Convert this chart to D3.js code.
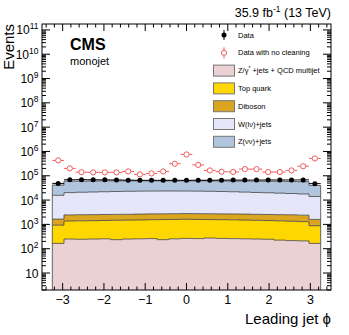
<!DOCTYPE html>
<html>
<head>
<meta charset="utf-8">
<script src="https://cdn.jsdelivr.net/npm/d3@7"></script>
<style>
body { margin: 0; background: #fff; }
svg { display: block; font-family: "Liberation Sans", Arial, Helvetica, sans-serif; }
</style>
</head>
<body>
<div id="chart"></div>
<script>
// 23 bins of leading jet phi
var binLo = -3.25, binHi = 3.25, nBins = 23;

// stacked backgrounds, per bin
var zqcd    = [165, 250, 245, 250, 255, 235, 250, 255, 260, 235, 255, 265, 260, 275, 265, 260, 255, 250, 245, 225, 215, 210, 165];
var topq    = [765, 1130, 1155, 1170, 1195, 1245, 1250, 1265, 1300, 1345, 1345, 1355, 1340, 1305, 1295, 1280, 1245, 1220, 1195, 1175, 1135, 1090, 715];
var diboson = [720, 1070, 1100, 1100, 1100, 1100, 1100, 1130, 1140, 1140, 1150, 1160, 1160, 1160, 1140, 1140, 1150, 1130, 1120, 1120, 1130, 1100, 720];
var wlnu    = [14050, 17850, 18500, 18980, 19450, 19920, 20400, 20650, 20800, 20880, 20850, 20720, 20540, 20260, 19800, 19320, 18650, 18000, 17440, 16780, 16120, 15400, 12400];
var znunu   = [25800, 39700, 39500, 39500, 39500, 39400, 39000, 38700, 38500, 38400, 38400, 38500, 38700, 39000, 39000, 39000, 39200, 39400, 39500, 39700, 39400, 39200, 26000];

var dataVals    = [48500, 68500, 69000, 68500, 68000, 67500, 66000, 65000, 65000, 65000, 65000, 65000, 65500, 65500, 66000, 66500, 66500, 66500, 67000, 67000, 67000, 67500, 47500];
var noCleanVals = [428000, 201000, 140000, 138000, 138000, 138000, 151000, 114000, 125000, 151000, 313000, 754000, 280000, 166000, 147000, 144000, 188000, 188000, 142000, 142000, 166000, 247000, 516000];

var layerKeys   = ['zqcd', 'topq', 'diboson', 'wlnu', 'znunu'];
var layerColors = ['#ecd1d4', '#ffd700', '#daa520', '#e6e6fa', '#b0c4de'];

// label parts: [text, superscript?]
var legendItems = [
    {label: [['Data']], type: 'data'},
    {label: [['Data with no cleaning']], type: 'noclean'},
    {label: [['Z/\u03b3'], ['*', true], [' +jets + QCD multijet']], type: 'box', color: '#ecd1d4'},
    {label: [['Top quark']], type: 'box', color: '#ffd700'},
    {label: [['Diboson']], type: 'box', color: '#daa520'},
    {label: [['W(l\u03bd)+jets']], type: 'box', color: '#e6e6fa'},
    {label: [['Z(\u03bd\u03bd)+jets']], type: 'box', color: '#b0c4de'}
];

var yMajor = [10, 100, 1e3, 1e4, 1e5, 1e6, 1e7, 1e8, 1e9, 1e10, 1e11];
var xMajor = [-3, -2, -1, 0, 1, 2, 3];

var W = 349, H = 335;
var margin = {left: 42, right: 18, top: 24, bottom: 45};
var pw = W - margin.left - margin.right;
var ph = H - margin.top - margin.bottom;
var yMin = 2, yMax = 1.75e11;

var svg = d3.select('#chart').append('svg').attr('width', W).attr('height', H);
var g = svg.append('g').attr('transform', 'translate(' + margin.left + ',' + margin.top + ')');

var x = d3.scaleLinear().domain([-3.5, 3.5]).range([0, pw]);
var y = d3.scaleLog().domain([yMin, yMax]).range([ph, 0]);

var bw = (binHi - binLo) / nBins;
var rows = d3.range(nBins).map(function(i) {
    return {
        x0: binLo + i * bw,
        x1: binLo + (i + 1) * bw,
        xc: binLo + (i + 0.5) * bw,
        zqcd: zqcd[i], topq: topq[i], diboson: diboson[i], wlnu: wlnu[i], znunu: znunu[i],
        data: dataVals[i], noclean: noCleanVals[i]
    };
});

var stacked = d3.stack().keys(layerKeys)(rows);

function steps(layer) {
    var pts = [];
    layer.forEach(function(d) {
        pts.push({x: d.data.x0, lo: d[0], hi: d[1]});
        pts.push({x: d.data.x1, lo: d[0], hi: d[1]});
    });
    return pts;
}

var area = d3.area()
    .x(function(d) { return x(d.x); })
    .y0(function(d) { return y(Math.max(d.lo, yMin)); })
    .y1(function(d) { return y(d.hi); });
var topLine = d3.line()
    .x(function(d) { return x(d.x); })
    .y(function(d) { return y(d.hi); });

stacked.forEach(function(layer, i) {
    var pts = steps(layer);
    g.append('path').attr('d', area(pts)).attr('fill', layerColors[i]).attr('stroke', 'none');
});
stacked.forEach(function(layer) {
    var pts = steps(layer);
    g.append('path').attr('d', topLine(pts)).attr('fill', 'none')
        .attr('stroke', '#444').attr('stroke-width', 0.8);
});
// outer edges of the stack
var last = stacked[stacked.length - 1];
[0, nBins - 1].forEach(function(i) {
    var xe = i === 0 ? rows[i].x0 : rows[i].x1;
    g.append('line')
        .attr('x1', x(xe)).attr('x2', x(xe))
        .attr('y1', y(yMin)).attr('y2', y(last[i][1]))
        .attr('stroke', '#444').attr('stroke-width', 0.8);
});
// thin grey uncertainty band on the total
var band = d3.area()
    .x(function(d) { return x(d.x); })
    .y0(function(d) { return y(d.hi * 0.96); })
    .y1(function(d) { return y(d.hi * 1.04); });
g.append('path').attr('d', band(steps(last))).attr('fill', 'rgba(110,110,110,0.4)');

// data with no cleaning
var red = '#f25a5a';
var nc = g.append('g');
rows.forEach(function(d) {
    var cx = x(d.xc), cy = y(d.noclean);
    nc.append('line').attr('x1', x(d.x0)).attr('x2', cx - 2.8).attr('y1', cy).attr('y2', cy)
        .attr('stroke', red).attr('stroke-width', 1);
    nc.append('line').attr('x1', cx + 2.8).attr('x2', x(d.x1)).attr('y1', cy).attr('y2', cy)
        .attr('stroke', red).attr('stroke-width', 1);
    nc.append('circle').attr('cx', cx).attr('cy', cy).attr('r', 2.6)
        .attr('fill', '#fff').attr('stroke', red).attr('stroke-width', 1);
});

// data
var dt = g.append('g');
rows.forEach(function(d) {
    var cy = y(d.data);
    dt.append('line').attr('x1', x(d.x0)).attr('x2', x(d.x1)).attr('y1', cy).attr('y2', cy)
        .attr('stroke', '#000').attr('stroke-width', 1);
    dt.append('circle').attr('cx', x(d.xc)).attr('cy', cy).attr('r', 2.5).attr('fill', '#000');
});

// frame
g.append('rect').attr('x', 0).attr('y', 0).attr('width', pw).attr('height', ph)
    .attr('fill', 'none').attr('stroke', '#000').attr('stroke-width', 1);

// log ticks
var yMinor = [];
d3.range(0, 12).forEach(function(e) {
    for (var k = 1; k < 10; k++) {
        var v = k * Math.pow(10, e);
        if (v >= yMin && v <= yMax && yMajor.indexOf(v) < 0) yMinor.push(v);
    }
});
var tk = g.append('g').attr('stroke', '#000').attr('stroke-width', 1);
yMajor.forEach(function(v) {
    tk.append('line').attr('x1', 0).attr('x2', 8).attr('y1', y(v)).attr('y2', y(v));
    tk.append('line').attr('x1', pw).attr('x2', pw - 8).attr('y1', y(v)).attr('y2', y(v));
});
yMinor.forEach(function(v) {
    tk.append('line').attr('x1', 0).attr('x2', 4).attr('y1', y(v)).attr('y2', y(v));
    tk.append('line').attr('x1', pw).attr('x2', pw - 4).attr('y1', y(v)).attr('y2', y(v));
});
var xMinor = d3.range(-34, 35, 2).map(function(v) { return v / 10; })
    .filter(function(v) { return Math.abs(v - Math.round(v)) > 1e-6; });
xMajor.forEach(function(v) {
    tk.append('line').attr('x1', x(v)).attr('x2', x(v)).attr('y1', ph).attr('y2', ph - 7);
    tk.append('line').attr('x1', x(v)).attr('x2', x(v)).attr('y1', 0).attr('y2', 7);
});
xMinor.forEach(function(v) {
    tk.append('line').attr('x1', x(v)).attr('x2', x(v)).attr('y1', ph).attr('y2', ph - 3.5);
    tk.append('line').attr('x1', x(v)).attr('x2', x(v)).attr('y1', 0).attr('y2', 3.5);
});

// y labels
yMajor.forEach(function(v) {
    var e = Math.round(Math.log10(v));
    var t = g.append('text').attr('x', -3.5).attr('y', y(v) + 4.5)
        .attr('text-anchor', 'end').attr('font-size', 12).attr('fill', '#000');
    if (e === 1) {
        t.text('10');
    } else {
        t.append('tspan').text('10');
        t.append('tspan').attr('dy', -5).attr('font-size', 8.5).text(e);
    }
});
// x labels
xMajor.forEach(function(v) {
    g.append('text').attr('x', x(v)).attr('y', ph + 14)
        .attr('text-anchor', 'middle').attr('font-size', 12.5).attr('fill', '#000')
        .text(v < 0 ? '\u2212' + Math.abs(v) : String(v));
});

// titles
svg.append('text').attr('x', margin.left + pw).attr('y', 324)
    .attr('text-anchor', 'end').attr('font-size', 15).text('Leading jet \u03d5');
svg.append('text').attr('transform', 'translate(14,' + margin.top + ') rotate(-90)')
    .attr('text-anchor', 'end').attr('font-size', 15).text('Events');
var lumi = svg.append('text').attr('x', margin.left + pw).attr('y', 17)
    .attr('text-anchor', 'end').attr('font-size', 12.5);
lumi.append('tspan').text('35.9 fb');
lumi.append('tspan').attr('dy', -5).attr('font-size', 8.5).text('-1');
lumi.append('tspan').attr('dy', 5).text(' (13 TeV)');
svg.append('text').attr('x', 70).attr('y', 50).attr('font-size', 16)
    .attr('font-weight', 'bold').text('CMS');
svg.append('text').attr('x', 70).attr('y', 65).attr('font-size', 11).text('monojet');

// legend
var lg = svg.append('g');
legendItems.forEach(function(it, i) {
    var cy = 35 + i * 17.8;
    if (it.type === 'box') {
        lg.append('rect').attr('x', 213.5).attr('y', cy - 5.5).attr('width', 21).attr('height', 11)
            .attr('fill', it.color).attr('stroke', '#777').attr('stroke-width', 1);
    } else if (it.type === 'data') {
        lg.append('line').attr('x1', 224).attr('x2', 224).attr('y1', cy - 5).attr('y2', cy + 5)
            .attr('stroke', '#000');
        lg.append('circle').attr('cx', 224).attr('cy', cy).attr('r', 2.5).attr('fill', '#000');
    } else {
        lg.append('line').attr('x1', 224).attr('x2', 224).attr('y1', cy - 5.5).attr('y2', cy + 5.5)
            .attr('stroke', red);
        lg.append('circle').attr('cx', 224).attr('cy', cy).attr('r', 2.6)
            .attr('fill', '#fff').attr('stroke', red);
    }
    var t = lg.append('text').attr('x', 238).attr('y', cy + 2.6).attr('font-size', 7.5);
    var raised = false;
    it.label.forEach(function(p) {
        var ts = t.append('tspan').text(p[0]);
        if (p[1]) { ts.attr('dy', -3).attr('font-size', 5); raised = true; }
        else if (raised) { ts.attr('dy', 3); raised = false; }
    });
});
</script>
</body>
</html>
